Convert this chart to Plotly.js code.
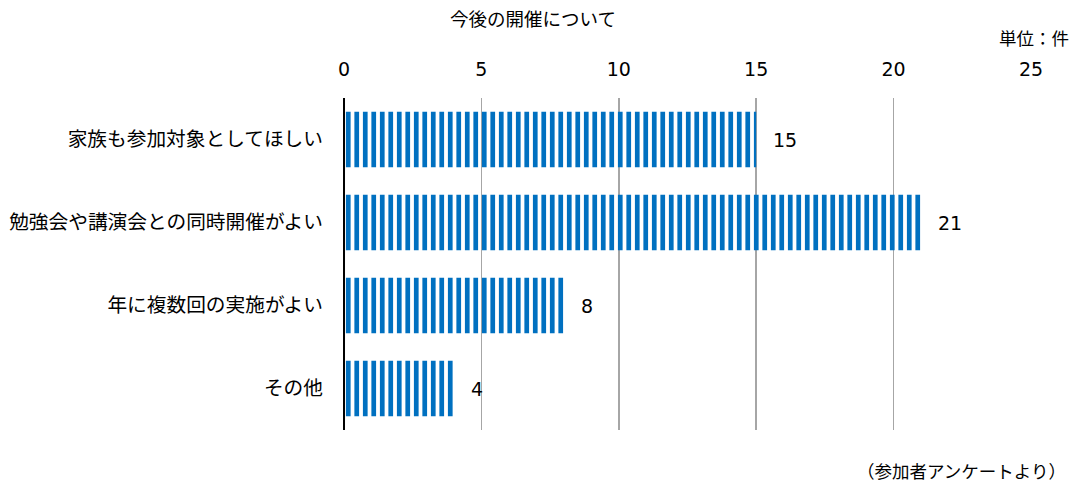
<!DOCTYPE html>
<html><head><meta charset="utf-8">
<script src="https://cdn.plot.ly/plotly-3.0.1.min.js"></script>
<style>html,body{margin:0;padding:0;background:#fff}#chart{width:1082px;height:486px}</style>
</head><body><div id="chart"></div>
<script>
const categories = ["家族も参加対象としてほしい","勉強会や講演会との同時開催がよい","年に複数回の実施がよい","その他"];
const values = [15, 21, 8, 4];
const tickValues = [0, 5, 10, 15, 20, 25];
const chartTitle = "今後の開催について";
const unitLabel = "単位：件";
const footnote = "（参加者アンケートより）";

const jp = '"Noto Sans CJK JP", "Noto Sans", sans-serif';
const num = '"DejaVu Sans", Verdana, sans-serif';

const trace = {
  type: 'bar', orientation: 'h',
  y: categories, x: values,
  width: 0.67,
  marker: {color: '#0070C0', line: {width: 0},
    pattern: {shape: '|', size: 8.5, solidity: 0.55, fillmode: 'replace'}},
  hoverinfo: 'none'
};

const annotations = values.map((v, i) => ({
  x: v, y: categories[i], xref: 'x', yref: 'y', text: String(v),
  showarrow: false, xanchor: 'left', xshift: 15,
  font: {family: num, size: 19, color: '#000'}
}));
annotations.push({xref: 'paper', yref: 'paper', x: 0.275, y: 1.0, yshift: 80, xanchor: 'center', yanchor: 'middle',
  text: chartTitle, showarrow: false, font: {family: jp, size: 18.5, color: '#000'}});
annotations.push({xref: 'paper', yref: 'paper', x: 1.0, y: 1.0, yshift: 61, xanchor: 'right', yanchor: 'middle', xshift: 40,
  text: unitLabel, showarrow: false, font: {family: jp, size: 17.5, color: '#000'}});
annotations.push({xref: 'paper', yref: 'paper', x: 1.0, y: 0, yshift: -40, xanchor: 'right', yanchor: 'middle', xshift: 37,
  text: footnote, showarrow: false, font: {family: jp, size: 17.5, color: '#000'}});

const layout = {
  width: 1082, height: 486,
  margin: {l: 344, r: 51, t: 98, b: 56},
  paper_bgcolor: '#fff', plot_bgcolor: '#fff',
  showlegend: false,
  bargap: 0.33,
  xaxis: {side: 'top', range: [0, 25], tickvals: tickValues, ticktext: tickValues.map(String),
    showgrid: true, gridcolor: '#A6A6A6', gridwidth: 1.5,
    zeroline: true, zerolinecolor: '#000', zerolinewidth: 2,
    ticks: 'outside', ticklen: 13, tickcolor: 'rgba(0,0,0,0)',
    tickfont: {family: num, size: 19, color: '#000'}, showline: false, fixedrange: true},
  yaxis: {autorange: 'reversed', showgrid: false, zeroline: false, showline: false,
    ticks: '', ticklabelstandoff: 20,
    tickfont: {family: jp, size: 19.7, color: '#000'}, fixedrange: true},
  annotations: annotations
};
Plotly.newPlot('chart', [trace], layout, {staticPlot: true});
</script></body></html>
